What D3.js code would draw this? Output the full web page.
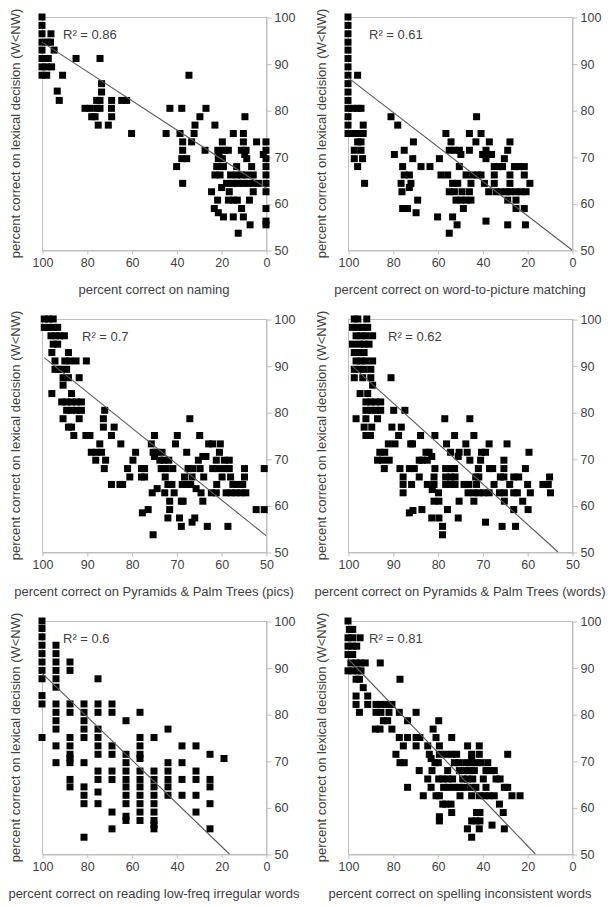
<!DOCTYPE html>
<html><head><meta charset="utf-8">
<script src="https://cdn.jsdelivr.net/npm/d3@7"></script>
<style>
html,body{margin:0;padding:0;background:#fff;}
svg{display:block;font-family:"Liberation Sans",Arial,sans-serif;}
</style></head>
<body>
<svg id="chart" width="613" height="907"></svg>
<script>
// ---------- data ----------
const yAxisTitle = "percent correct on lexical decision (W<NW)";
const xAxisTitles = [
  "percent correct on naming",
  "percent correct on word-to-picture matching",
  "percent correct on Pyramids & Palm Trees (pics)",
  "percent correct on Pyramids & Palm Trees (words)",
  "percent correct on reading low-freq irregular words",
  "percent correct on spelling inconsistent words"
];
const rSquaredLabels = ["R² = 0.86","R² = 0.61","R² = 0.7","R² = 0.62","R² = 0.6","R² = 0.81"];
const xDomains = [[100,0],[100,0],[100,50],[100,50],[100,0],[100,0]];
const xTickLists = [
  [100,80,60,40,20,0],[100,80,60,40,20,0],
  [100,90,80,70,60,50],[100,90,80,70,60,50],
  [100,80,60,40,20,0],[100,80,60,40,20,0]
];
const yTicks = [50,60,70,80,90,100];
// regression lines y = intercept + slope * x
const intercepts = [63.3, 50.0, 14.9, 3.9, 42.4, 41.8];
const slopes     = [0.313, 0.37, 0.772, 0.868, 0.464, 0.501];

const naming = [
[100,100],[100,98.2],[100,96.4],[100,94.6],[100,92.9],[100,91.1],[100,89.3],[100,87.5],
[97.5,94.6],[96.2,94.6],[96,96.4],[94.6,92.9],[97.2,91.1],[97.9,89.3],[95.7,89.3],[97.9,87.5],
[93.2,84.1],[92.3,82.1],[90.8,87.5],[84.8,91.1],[74.1,91.1],[73.4,85.7],[73.4,83.9],
[75.6,82.1],[74.1,82.1],[68.9,82.1],[64.4,82.1],[62.2,82.1],
[80.8,80.4],[78.6,80.4],[75.6,80.4],[74.1,80.4],[69.0,80.4],
[77.8,78.6],[76.3,78.6],[68.9,78.6],[74.9,76.8],[70.4,76.8],[60,75],[44.6,75],
[42.9,80.4],[37.6,80.4],[26.8,80.4],[34.4,87.5],[29.5,78.6],[9.4,78.6],[31.7,76.8],[22.8,76.8],
[38.4,75],[32.1,75],[14.6,75],[10.1,75],
[37.2,73.2],[33.2,73.2],[19.5,73.2],[10.1,73.2],[4.2,73.2],[0,73.2],
[37.2,71.4],[27.2,71.4],[21.5,71.4],[18.8,71.4],[16.8,71.4],[11.0,71.4],[8.9,71.4],[0,71.4],
[21,70.5],[9.5,70.5],[1.2,70.5],
[37.6,69.6],[35.4,69.6],[21.3,69.6],[19.5,69.6],[8.6,69.6],[0,69.6],
[39.9,67.9],[22.0,67.9],[19.0,67.9],[13.1,67.9],[6.4,67.9],[0,67.9],
[22.8,66.1],[20.5,66.1],[15.8,66.1],[13.1,66.1],[10.9,66.1],[8.6,66.1],[5.7,66.1],[0,66.1],
[37.2,64.3],[17.6,64.3],[14.6,64.3],[12.5,64.3],[10.1,64.3],[7.9,64.3],[5.7,64.3],[3.4,64.3],[0,64.3],
[19.8,63.4],[24.3,62.5],[16.4,62.5],[5.7,62.5],[0,62.5],
[21.6,60.7],[16.8,60.7],[14.6,60.7],[12.8,60.7],[7.4,60.7],
[23.1,58.9],[10.9,58.9],[0,58.9],[21.3,58.0],[19.0,57.1],[14.6,57.1],[10.1,57.1],
[0,56.2],[7.1,55.4],[0,55.4],[12.4,53.6]
];

const wordPicture = [
[100,100],[100,98.2],[100,96.4],[100,94.6],[100,92.9],[100,91.1],[100,89.3],[100,87.5],
[100,85.7],[100,83.9],[100,82.1],[100,80.4],[100,78.6],[100,76.8],[100,75.0],
[95.7,87.5],[97.9,80.4],[95.7,80.4],[94.2,80.4],[93.2,76.8],[97.9,75],[95.7,75],[93.2,75],
[95.7,73.2],[94.2,73.2],[97.2,71.4],[94.2,71.4],[97.2,69.6],[93.5,69.6],[95.7,67.9],[92.6,64.3],
[80.8,78.6],[42.6,78.6],[77.8,76.8],[56.3,75],[45.8,75],[40.6,75],
[70.8,73.2],[54.0,73.2],[42.9,73.2],[36.9,73.2],[27.7,73.2],
[74.9,71.4],[54.8,71.4],[52.5,71.4],[50.3,71.4],[45.8,71.4],[38.4,71.4],[28.7,71.4],
[79.3,70.5],[49.6,70.5],[39.9,70.5],[37.6,70.5],[35.9,70.5],
[71.1,69.6],[59.2,69.6],[38.4,69.6],[30.2,69.6],
[75.6,67.9],[67.4,67.9],[63.4,67.9],[50.3,67.9],[34.7,67.9],[32.4,67.9],[31.0,67.9],[25.7,67.9],[23.5,67.9],[21.3,67.9],
[74.9,66.1],[72.6,66.1],[58.5,66.1],[55.5,66.1],[47.3,66.1],[44.3,66.1],[42.1,66.1],[40.6,66.1],[34.7,66.1],[27.7,66.1],[21.3,66.1],
[76.3,64.3],[71.9,64.3],[53.3,64.3],[51.0,64.3],[45.1,64.3],[39.1,64.3],[34.7,64.3],[27.7,64.3],[18.8,64.3],
[72.6,63.4],
[75.9,62.5],[54.8,62.5],[52.5,62.5],[49.1,62.5],[45.8,62.5],[37.2,62.5],[33.9,62.5],[31.7,62.5],[29.5,62.5],[27.7,62.5],[25.0,62.5],[22.8,62.5],[20.5,62.5],
[68.9,60.7],[51.8,60.7],[49.6,60.7],[47.3,60.7],[45.1,60.7],[28.7,60.7],[25.0,60.7],
[75.6,58.9],[73.4,58.9],[48.5,58.9],[25.0,58.9],[21.3,58.9],[69.6,58.0],
[60.0,57.1],[53.3,57.1],[38.4,56.2],[51.3,55.4],[28.7,55.4],[20.8,55.4],[54.8,53.6]
];

const pptPics = [
[99.5,100],[98.5,100],[97.5,100],
[99.5,98.2],[98.5,98.2],[97.5,98.2],[96.5,98.2],
[98,96.4],[97,96.4],[96,96.4],[95,96.4],
[97.5,94.6],[96.5,94.6],[97.8,92.8],[94.1,92.8],
[97.1,91.0],[94.9,91.0],[93.8,91.0],[92.4,91.0],[90.1,91.0],
[97.1,89.2],[96.4,89.2],[95.6,89.2],[94.5,89.2],
[95.3,87.4],[94.1,87.4],[91.7,87.4],[95.3,85.8],[97.8,84.0],[93.4,84.0],
[95.6,82.2],[94.5,82.2],[93.4,82.2],[92.3,82.2],[91.2,82.2],
[94.5,80.4],[93.4,80.4],[92.3,80.4],[91.2,80.4],[86.0,80.4],
[95.3,78.6],[91.7,78.6],[86.3,78.6],[67.0,78.6],
[94.1,76.8],[93.4,76.8],[86.3,76.8],[83.9,76.8],
[92.9,75.0],[90.2,75.0],[89.3,75.0],[84.5,75.0],[74.9,75.0],[69.8,75.0],[64.8,75.0],
[87.1,73.2],[82.4,73.2],[75.6,73.2],[70.2,73.2],[61.9,73.2],[60.2,73.2],[62.8,73.2],
[89.0,71.4],[87.8,71.4],[86.7,71.4],[79.1,71.4],[75.2,71.4],[74.5,71.4],[73.2,71.4],[67.7,71.4],[60.4,71.4],
[74.9,70.5],[64.1,70.5],[63.4,70.5],
[88.0,69.7],[85.8,69.7],[79.7,69.7],[73.7,69.7],[72.8,69.7],[71.7,69.7],[65.1,69.7],[61.1,69.7],[59.3,69.7],[58.2,69.7],
[86.1,67.9],[80.9,67.9],[77.8,67.9],[77.1,67.9],[73.4,67.9],[72.3,67.9],[70.8,67.9],[67.4,67.9],[66.3,67.9],[64.7,67.9],[61.9,67.9],[60.8,67.9],[59.3,67.9],[58.2,67.9],[54.8,67.9],[50.4,67.9],
[80.4,66.1],[77.8,66.1],[77.1,66.1],[72.5,66.1],[68.2,66.1],[66.5,66.1],[63.9,66.1],[59.8,66.1],[57.9,66.1],[54.8,66.1],
[84.5,64.5],[82.6,64.5],[82.0,64.5],[71.9,64.5],[71.0,64.5],[68.7,64.5],[67.8,64.5],[66.8,64.5],[61.0,64.5],[57.4,64.5],[56.3,64.5],[55.2,64.5],
[74.3,63.6],[65.6,63.6],
[75.4,62.7],[72.6,62.7],[70.5,62.7],[64.5,62.7],[62.2,62.7],[61.1,62.7],[58.9,62.7],[57.8,62.7],[56.7,62.7],[55.6,62.7],[54.5,62.7],
[71.5,60.9],[68.9,60.9],[68.5,60.9],[64.1,60.9],
[76.3,59.1],[71.5,59.1],[52.2,59.1],[50.4,59.1],[77.6,58.4],
[71.9,57.3],[69.3,57.3],[65.9,57.3],[66.5,56.4],
[68.9,55.5],[63.1,55.5],[58.5,55.5],[75.2,53.7]
];

const pptWords = [
[98.6,100],[97.8,100],[95.8,100],
[99,98.2],[97.8,98.2],[96.7,98.2],[95.6,98.2],
[98.2,96.4],[97.1,96.4],[96,96.4],[94.5,96.4],
[99,94.6],[97.5,94.6],[96.4,94.6],[95.3,94.6],
[98.6,92.8],[97.5,92.8],[96.4,92.8],
[98.2,91.0],[97.1,91.0],[96,91.0],[94.5,91.0],
[98.6,89.2],[97.5,89.2],[96.4,89.2],[94.9,89.2],
[98.6,87.4],[96.7,87.4],[94.9,87.4],[90.4,87.4],
[94.5,85.8],[97.3,84.0],[95.6,84.0],
[96,82.2],[94.9,82.2],[93.8,82.2],[92.7,82.2],
[96,80.4],[94.9,80.4],[93.8,80.4],[92.7,80.4],[89.8,80.4],[87.3,80.4],
[98.2,78.6],[96,78.6],[93.4,78.6],[78.4,78.6],[72.8,78.6],
[96.4,76.8],[94.7,76.8],[90.2,76.8],[88.1,76.8],
[96,75.0],[95,75.0],[88.7,75.0],[83.8,75.0],[80.6,75.0],[76.2,75.0],[71.9,75.0],
[91,73.2],[89.5,73.2],[86,73.2],[85.6,73.2],[78,73.2],[73.7,73.2],[68.5,73.2],[64.5,73.2],
[92.9,71.4],[91.8,71.4],[82.6,71.4],[81.9,71.4],[77.1,71.4],[75.2,71.4],[73.4,71.4],[70.2,71.4],[69.3,71.4],[59.6,71.4],
[81.3,70.5],[75.4,70.5],
[93.4,69.7],[92.3,69.7],[90.8,69.7],[84.1,69.7],[83.4,69.7],[82.3,69.7],[72.8,69.7],[70.4,69.7],[65.2,69.7],
[91.9,67.9],[88.4,67.9],[86.3,67.9],[85.2,67.9],[80.6,67.9],[78.2,67.9],[77.1,67.9],[76.2,67.9],[70.9,67.9],[68.4,67.9],[67.7,67.9],[65.2,67.9],[60.4,67.9],
[87.7,66.1],[84.1,66.1],[80.8,66.1],[78.2,66.1],[77.1,66.1],[76.1,66.1],[71.5,66.1],[70.8,66.1],[66.0,66.1],[65.2,66.1],[63.0,66.1],[61.9,66.1],[55.0,66.1],
[87.7,64.5],[85.8,64.5],[82.3,64.5],[80.8,64.5],[78.2,64.5],[77.1,64.5],[76.1,64.5],[74.1,64.5],[73.0,64.5],[71.3,64.5],[67.4,64.5],[63.9,64.5],[59.9,64.5],[56.5,64.5],[55.3,64.5],
[81.2,63.4],
[87.7,62.7],[79.8,62.7],[73.2,62.7],[71.9,62.7],[70.8,62.7],[69.7,62.7],[68.5,62.7],[66.2,62.7],[65.1,62.7],[63.0,62.7],[62.2,62.7],[59.3,62.7],[54.8,62.7],
[80.8,60.9],[79.7,60.9],[75.2,60.9],[71.9,60.9],[65.1,60.9],[61.0,60.9],
[77.8,59.1],[63.0,59.1],[59.8,59.1],
[86.3,58.4],[85.5,58.9],[83.5,59.1],
[81.3,57.3],[79.7,57.3],[75.4,57.3],[69.3,56.4],
[78.9,55.5],[65.6,55.5],[62.6,55.5],[78.9,53.7]
];

const readingIrregular = [
[100,100],[100,98.4],[100,96.6],[100,94.8],[100,93.0],[100,91.2],[100,89.4],[100,87.6],[100,84.0],[100,82.2],[100,75.0],
[93.75,94.8],[93.75,93.0],[93.75,91.2],[93.75,89.4],[93.75,87.6],[93.75,85.8],[93.75,82.2],[93.75,80.4],[93.75,78.6],[93.75,76.8],[93.75,73.2],[93.75,69.6],
[87.5,91.2],[87.5,89.4],[87.5,82.2],[87.5,80.4],[87.5,75.0],[87.5,73.2],[87.5,71.4],[87.5,70.5],[87.5,69.6],[87.5,66.0],[87.5,64.4],
[81.25,82.2],[81.25,80.4],[81.25,78.6],[81.25,76.8],[81.25,75.0],[81.25,69.6],[81.25,64.4],[81.25,62.6],[81.25,60.8],[81.25,53.6],
[75,87.6],[75,82.2],[75,80.4],[75,76.8],[75,75.0],[75,73.2],[75,71.4],[75,67.8],[75,66.0],[75,63.3],[75,60.8],
[68.75,82.2],[68.75,80.4],[68.75,73.2],[68.75,71.4],[68.75,67.8],[68.75,66.0],[68.75,59.0],[68.75,55.4],
[62.5,78.6],[62.5,71.4],[62.5,69.6],[62.5,67.8],[62.5,66.0],[62.5,64.4],[62.5,62.6],[62.5,60.8],[62.5,58.1],[62.5,57.2],
[56.25,80.4],[56.25,75.0],[56.25,73.2],[56.25,71.4],[56.25,70.5],[56.25,67.8],[56.25,66.0],[56.25,64.4],[56.25,62.6],[56.25,60.8],[56.25,59.0],[56.25,57.2],
[50,75.0],[50,67.8],[50,66.0],[50,64.4],[50,62.6],[50,60.8],[50,59.0],[50,57.2],[50,56.3],[50,55.4],
[43.75,76.8],[43.75,69.6],[43.75,67.8],[43.75,66.0],[43.75,64.4],[43.75,62.6],
[37.5,73.2],[37.5,69.6],[37.5,66.0],[37.5,62.6],
[31.25,73.2],[31.25,67.8],[31.25,66.0],[31.25,62.6],[31.25,59.0],
[25,71.4],[25,66.0],[25,64.4],[25,60.8],[25,55.4],
[18.75,70.5]
];

const spellingInconsistent = [
[100,100],[99.4,98.2],[97.9,98.2],[100,96.4],[97.9,96.4],[94.6,96.4],
[100,94.6],[97.9,94.6],[96.1,94.6],[100,92.8],[97.9,92.8],
[98.7,91.0],[96.4,91.0],[94.5,91.0],[92.3,91.0],[85.6,91.0],
[100,89.3],[97.9,89.3],[95.7,89.3],[94.2,89.3],
[96.4,87.5],[94.9,87.5],[76.8,87.5],[93.2,85.7],[96.4,83.9],[91.2,83.9],
[96.4,82.1],[91.2,82.1],[87.5,82.1],[85.3,82.1],[83.0,82.1],[80.4,82.1],
[94.9,80.4],[87.5,80.4],[85.3,80.4],[81.7,80.4],[77.1,80.4],[69.6,80.4],
[84.2,78.6],[82.3,78.6],[73.4,78.6],[59.5,78.6],
[87.8,76.8],[85.7,76.8],[80.4,76.8],[62.0,76.8],
[77.1,75.0],[73.4,75.0],[69.6,75.0],[67.9,75.0],[60.7,75.0],[53.7,75.0],
[75.3,73.2],[69.6,73.2],[64.4,73.2],[59.2,73.2],[46.6,73.2],[41.4,73.2],
[78.6,71.4],[63.7,71.4],[59.2,71.4],[56.3,71.4],[53.7,71.4],[51.5,71.4],[44.8,71.4],[41.4,71.4],[28.7,71.4],
[62.9,70.5],[44.8,70.5],
[76.8,69.6],[74.9,69.6],[61.2,69.6],[59.7,69.6],[50.3,69.6],[52.5,69.6],[47.3,69.6],[45.1,69.6],[42.9,69.6],[40.6,69.6],[37.6,69.6],
[68.2,67.9],[62.5,67.9],[55.5,67.9],[50.3,67.9],[48.1,67.9],[45.8,67.9],[43.6,67.9],[38.4,67.9],[36.6,67.9],[34.7,67.9],
[64.4,66.1],[59.5,66.1],[57.7,66.1],[55.5,66.1],[53.3,66.1],[48.8,66.1],[46.6,66.1],[44.3,66.1],[39.6,66.1],[33.9,66.1],[32.1,66.1],
[73.4,64.3],[62.9,64.3],[57.3,64.3],[55.1,64.3],[52.5,64.3],[50.3,64.3],[48.1,64.3],[45.1,64.3],[42.9,64.3],[38.4,64.3],[30.2,64.3],[28.7,64.3],
[66.4,62.5],[60.7,62.5],[59.2,62.5],[50.0,62.5],[44.8,62.5],[41.4,62.5],[39.1,62.5],[36.9,62.5],[34.7,62.5],[26.8,62.5],[23.2,62.5],
[57.7,60.7],[56.3,60.7],[54.0,60.7],[32.4,60.7],
[53.7,58.9],[42.6,58.9],[41.1,58.9],[30.7,58.9],
[59.2,58.0],[42.9,57.1],[41.1,57.1],[59.2,57.1],[44.8,57.1],
[35.7,56.2],[46.7,55.4],[41.4,55.4],[30.2,55.4],[44.8,53.6]
];

const panelPoints = [naming, wordPicture, pptPics, pptWords, readingIrregular, spellingInconsistent];

// ---------- layout ----------
const colLeft = [42, 348];
const plotW = 224;
const rowTop = [17, 319, 621];
const plotH = 233;
const textColor = "#404040";
const axisColor = "#bfbfbf";

const svg = d3.select("#chart");

panelPoints.forEach((pts, i) => {
  const col = i % 2, row = Math.floor(i / 2);
  const x0 = colLeft[col], y0 = rowTop[row];
  const g = svg.append("g").attr("transform", `translate(${x0},${y0})`);
  const x = d3.scaleLinear().domain(xDomains[i]).range([0, plotW]);
  const y = d3.scaleLinear().domain([50, 100]).range([plotH, 0]);

  // frame
  g.append("rect").attr("x", 0.5).attr("y", 0.5).attr("width", plotW).attr("height", plotH)
    .attr("fill", "none").attr("stroke", axisColor).attr("stroke-width", 1);

  // bottom axis
  const xAxis = g.append("g").attr("transform", `translate(0.5,${plotH + 0.5})`)
    .call(d3.axisBottom(x).tickValues(xTickLists[i]).tickSize(4).tickSizeOuter(0).tickPadding(4));
  xAxis.select(".domain").attr("stroke", axisColor);
  xAxis.selectAll(".tick line").attr("stroke", axisColor);
  xAxis.selectAll(".tick text").attr("fill", textColor).style("font-size", "12.5px")
    .style("font-family", "'Liberation Sans', Arial, sans-serif");

  // right axis
  const yAxis = g.append("g").attr("transform", `translate(${plotW + 0.5},0.5)`)
    .call(d3.axisRight(y).tickValues(yTicks).tickSize(5).tickSizeOuter(0).tickPadding(3));
  yAxis.select(".domain").attr("stroke", axisColor);
  yAxis.selectAll(".tick line").attr("stroke", axisColor);
  yAxis.selectAll(".tick text").attr("fill", textColor).style("font-size", "12.5px")
    .style("font-family", "'Liberation Sans', Arial, sans-serif");

  // markers
  const s = 7;
  g.append("g").selectAll("rect").data(pts).join("rect")
    .attr("x", d => x(d[0]) - s / 2).attr("y", d => y(d[1]) - s / 2)
    .attr("width", s).attr("height", s).attr("fill", "#000");

  // regression line, clipped to the plot
  const xs = pts.map(d => d[0]);
  const xStart = d3.max(xs);
  let xEnd = xDomains[i][1];
  const f = v => intercepts[i] + slopes[i] * v;
  if (f(xEnd) < 50) xEnd = (50 - intercepts[i]) / slopes[i];
  g.append("line")
    .attr("x1", x(xStart)).attr("y1", y(f(xStart)))
    .attr("x2", x(xEnd)).attr("y2", y(f(xEnd)))
    .attr("stroke", "#5a5a5a").attr("stroke-width", 1.1);

  // R² label
  const rX = (i === 2 || i === 3) ? 40 : 21;
  g.append("text").attr("x", rX).attr("y", 22).attr("fill", textColor)
    .style("font-size", "13px").text(rSquaredLabels[i]);

  // x title
  g.append("text").attr("x", plotW / 2).attr("y", plotH + 44)
    .attr("text-anchor", "middle").attr("fill", textColor)
    .style("font-size", "13px").text(xAxisTitles[i]);

  // y title
  g.append("text").attr("transform", `translate(-22,${plotH / 2}) rotate(-90)`)
    .attr("text-anchor", "middle").attr("fill", textColor)
    .style("font-size", "13px").text(yAxisTitle);
});
</script>
</body></html>
